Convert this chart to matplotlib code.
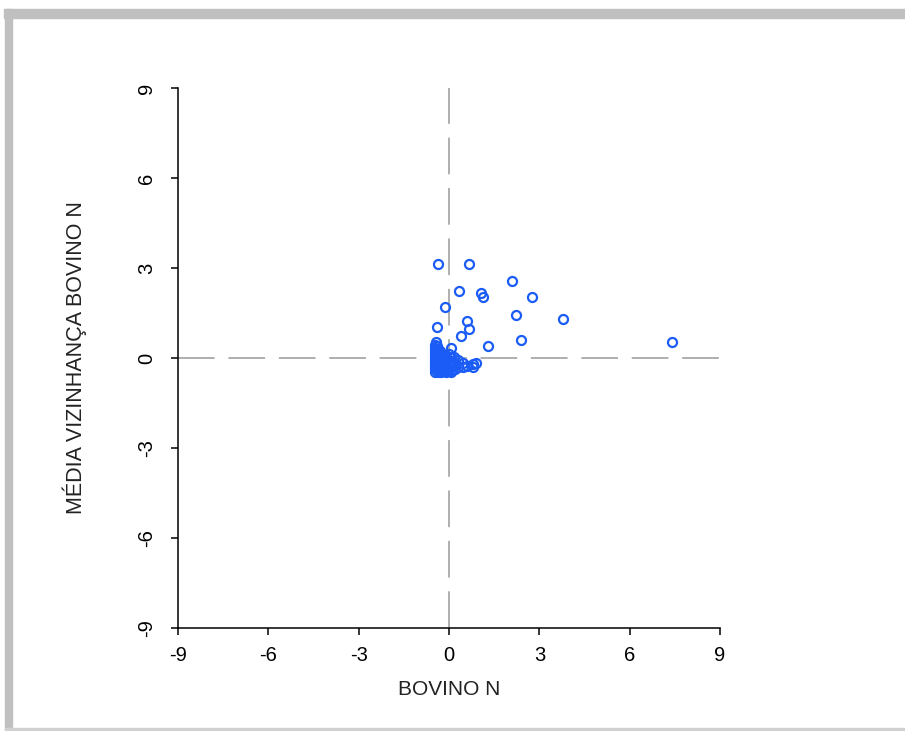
import matplotlib
matplotlib.use("Agg")
import matplotlib.pyplot as plt
from matplotlib.patches import Rectangle

plt.rcParams['font.family'] = ['Liberation Sans', 'DejaVu Sans']

# Scattered municipalities (standardised value, neighbourhood mean)
outer_x = [-0.36, 0.67, 2.10, 0.34, 1.06, 1.14, 2.75, -0.13, 2.21, 3.79,
           0.60, -0.39, 0.67, 0.41, 2.40, 1.29, 7.41, 0.06, -0.43]
outer_y = [3.12, 3.12, 2.56, 2.24, 2.17, 2.02, 2.04, 1.70, 1.43, 1.29,
           1.23, 1.02, 0.96, 0.75, 0.61, 0.40, 0.55, 0.34, 0.52]

# Dense group around the origin
cluster_x = [-0.45, -0.45, -0.45, -0.45, -0.45, -0.45, -0.45, -0.45, -0.45, -0.45,
             -0.40, -0.40, -0.40, -0.40, -0.40, -0.40, -0.40,
             -0.35, -0.35, -0.35, -0.35, -0.35, -0.35,
             -0.30, -0.30, -0.30, -0.30, -0.30,
             -0.25, -0.25, -0.25, -0.25,
             -0.20, -0.20, -0.20,
             -0.15, -0.15, -0.15,
             -0.10, -0.10, -0.10,
             -0.05, -0.05,
             0.00, 0.00, 0.00,
             0.05, 0.05, 0.05,
             0.10, 0.10,
             0.15, 0.15,
             0.20, 0.20,
             0.30, 0.30,
             0.45, 0.45,
             0.60,
             0.80, 0.80,
             0.90]
cluster_y = [0.45, 0.35, 0.25, 0.15, 0.05, -0.05, -0.15, -0.25, -0.35, -0.45,
             0.40, 0.20, 0.00, -0.20, -0.40, -0.30, 0.10,
             0.30, 0.10, -0.10, -0.30, -0.45, 0.20,
             0.25, 0.00, -0.20, -0.40, 0.10,
             0.15, -0.10, -0.30, -0.45,
             0.05, -0.20, -0.40,
             0.10, -0.15, -0.35,
             0.00, -0.30, -0.45,
             -0.10, -0.40,
             0.15, -0.20, -0.35,
             0.05, -0.30, -0.45,
             -0.10, -0.40,
             0.05, -0.25,
             -0.15, -0.35,
             -0.05, -0.30,
             -0.15, -0.30,
             -0.25,
             -0.30, -0.20,
             -0.15]

ticks = [-9, -6, -3, 0, 3, 6, 9]
tick_labels = ['-9', '-6', '-3', '0', '3', '6', '9']

fig = plt.figure(figsize=(9.05, 7.31), dpi=100)

# grey frame around the panel
grey = '#c0c0c0'
fig.patches.append(Rectangle((4 / 905, 1 - 18 / 731), 1, 9 / 731,
                             transform=fig.transFigure, color=grey, zorder=0))
fig.patches.append(Rectangle((5 / 905, 0), 7 / 905, 1 - 9 / 731,
                             transform=fig.transFigure, color=grey, zorder=0))
fig.patches.append(Rectangle((5 / 905, 1 / 731), 1, 2 / 731,
                             transform=fig.transFigure, color='#d0d0d0', zorder=0))

ax = fig.add_axes([178 / 905, 1 - 628 / 731, 542 / 905, 540 / 731])
ax.set_xlim(-9, 9)
ax.set_ylim(-9, 9)

for s in ['top', 'right']:
    ax.spines[s].set_visible(False)
for s in ['left', 'bottom']:
    ax.spines[s].set_linewidth(1.1)
    ax.spines[s].set_color('black')

dash_kw = dict(color='#999999', lw=1.1, dashes=(24, 9), zorder=1)
ax.axhline(0, **dash_kw)
ax.axvline(0, **dash_kw)

blue = '#1a5cf5'
ax.plot(cluster_x, cluster_y, 'o', ms=6.5, mfc='none', mec=blue, mew=1.6,
        zorder=3, clip_on=False)
ax.plot(outer_x, outer_y, 'o', ms=6.5, mfc='none', mec=blue, mew=1.6,
        zorder=3, clip_on=False)

narrow = ['Liberation Sans Narrow', 'Liberation Sans', 'DejaVu Sans']
ax.set_xticks(ticks)
ax.set_xticklabels(tick_labels, family=narrow, fontsize=14.5)
ax.set_yticks(ticks)
ax.set_yticklabels(tick_labels, rotation=90, va='center', family=narrow,
                   fontsize=14.5)
ax.tick_params(axis='both', direction='out', length=5, width=1.1,
               colors='black')
ax.tick_params(axis='x', pad=8)
ax.tick_params(axis='y', pad=11)

ax.set_xlabel('BOVINO N', fontsize=15, color='#222222', labelpad=11,
              family=narrow)
ax.set_ylabel('MÉDIA VIZINHANÇA BOVINO N', fontsize=15.5, color='#222222',
              labelpad=36, family=narrow)

fig.savefig('out.png', dpi=100)
